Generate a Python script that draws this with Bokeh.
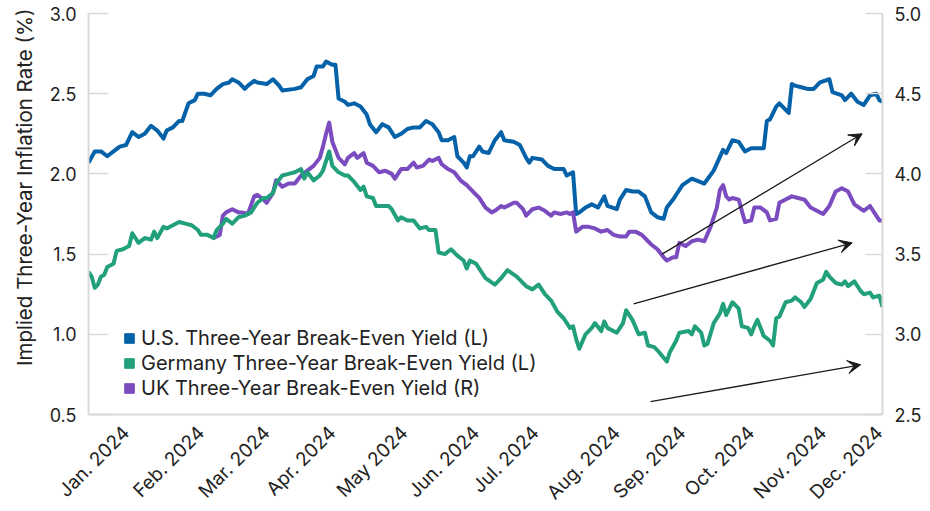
import math
from bokeh.plotting import figure
from bokeh.models import (Range1d, LinearAxis, FixedTicker, NumeralTickFormatter, Legend,
                          LegendItem, Arrow, VeeHead, Title)
from bokeh.embed import file_html
from bokeh.resources import INLINE

# ---- data (x = trading-day index over 2024) ----
us_day = [0, 2, 4, 6, 8, 10, 12, 14, 16, 18, 20, 22, 24, 25, 27, 29, 30, 32, 34, 35, 37, 39, 41, 43, 45, 46, 48, 50,
          51, 53, 54, 57, 59, 61, 62, 66, 68, 70, 72, 73, 75, 76, 78, 79, 80, 82, 83, 85, 87, 89, 90, 92, 94, 96, 98,
          100, 102, 104, 106, 108, 110, 112, 113, 115, 117, 118, 120, 121, 122, 123, 125, 126, 128, 130, 132, 133,
          136, 138, 140, 141, 142, 145, 147, 149, 152, 153, 155, 156, 157, 159, 161, 163, 165, 166, 169, 170, 172,
          174, 176, 178, 180, 182, 184, 185, 187, 188, 190, 193, 197, 200, 203, 204, 206, 208, 210, 212, 214, 216,
          217, 218, 220, 221, 224, 225, 226, 228, 230, 232, 234, 237, 238, 241, 242, 244, 246, 248, 250, 252, 253, 254]
us_val = [2.07, 2.14, 2.14, 2.11, 2.14, 2.17, 2.18, 2.26, 2.23, 2.25, 2.30, 2.27, 2.22, 2.27, 2.29, 2.33, 2.33, 2.44,
          2.46, 2.50, 2.50, 2.49, 2.53, 2.56, 2.57, 2.59, 2.57, 2.53, 2.55, 2.58, 2.57, 2.56, 2.59, 2.55, 2.52, 2.53,
          2.54, 2.59, 2.61, 2.67, 2.67, 2.70, 2.68, 2.68, 2.47, 2.45, 2.43, 2.44, 2.42, 2.37, 2.31, 2.26, 2.31, 2.29,
          2.23, 2.25, 2.28, 2.29, 2.29, 2.33, 2.31, 2.26, 2.21, 2.21, 2.23, 2.11, 2.07, 2.04, 2.11, 2.11, 2.17, 2.14,
          2.13, 2.21, 2.26, 2.21, 2.20, 2.18, 2.10, 2.07, 2.10, 2.09, 2.05, 2.03, 2.03, 1.99, 2.01, 1.75, 1.76, 1.79,
          1.81, 1.79, 1.86, 1.80, 1.78, 1.84, 1.90, 1.89, 1.89, 1.86, 1.76, 1.73, 1.72, 1.79, 1.84, 1.87, 1.93, 1.97,
          1.94, 2.02, 2.15, 2.13, 2.21, 2.20, 2.14, 2.16, 2.16, 2.16, 2.33, 2.34, 2.42, 2.44, 2.38, 2.56, 2.55, 2.54,
          2.53, 2.53, 2.57, 2.59, 2.51, 2.49, 2.46, 2.50, 2.45, 2.43, 2.49, 2.50, 2.46, 2.45]

de_day = [0, 1, 2, 3, 4, 5, 6, 8, 9, 11, 13, 14, 16, 18, 20, 21, 22, 24, 25, 27, 29, 31, 33, 35, 36, 38, 40, 41, 43,
          44, 46, 48, 50, 52, 54, 56, 57, 59, 60, 62, 64, 66, 68, 69, 70, 72, 74, 75, 77, 78, 80, 82, 83, 85, 87, 88,
          89, 91, 92, 94, 96, 97, 99, 100, 102, 104, 106, 108, 109, 111, 112, 114, 116, 118, 120, 121, 122, 124, 125,
          127, 130, 132, 134, 137, 140, 142, 144, 146, 148, 150, 152, 154, 155, 156, 157, 159, 161, 162, 164, 165,
          166, 169, 171, 172, 174, 176, 178, 179, 181, 182, 185, 186, 188, 189, 192, 193, 194, 196, 197, 198, 200,
          202, 203, 204, 206, 208, 209, 211, 212, 213, 214, 216, 218, 219, 220, 221, 223, 225, 226, 228, 229, 231,
          233, 235, 236, 237, 239, 241, 242, 243, 245, 247, 248, 250, 251, 253, 254]
de_val = [1.39, 1.36, 1.29, 1.31, 1.36, 1.37, 1.42, 1.44, 1.52, 1.53, 1.55, 1.63, 1.57, 1.60, 1.59, 1.64, 1.60, 1.67,
          1.66, 1.68, 1.70, 1.69, 1.68, 1.65, 1.62, 1.62, 1.60, 1.65, 1.69, 1.72, 1.69, 1.73, 1.74, 1.76, 1.82, 1.85,
          1.85, 1.88, 1.94, 1.99, 2.00, 2.01, 2.03, 1.97, 2.01, 1.96, 1.99, 2.02, 2.14, 2.05, 2.01, 1.99, 1.99, 1.95,
          1.90, 1.92, 1.86, 1.85, 1.80, 1.80, 1.80, 1.78, 1.71, 1.73, 1.71, 1.71, 1.66, 1.67, 1.65, 1.65, 1.51, 1.50,
          1.53, 1.49, 1.46, 1.41, 1.46, 1.44, 1.41, 1.35, 1.31, 1.35, 1.40, 1.36, 1.30, 1.28, 1.31, 1.25, 1.21, 1.14,
          1.10, 1.04, 1.05, 0.97, 0.91, 1.00, 1.04, 1.07, 1.02, 1.08, 1.04, 1.01, 1.07, 1.15, 1.09, 1.00, 1.01, 0.93,
          0.92, 0.90, 0.83, 0.89, 0.96, 1.01, 1.02, 1.00, 1.05, 1.01, 0.93, 0.94, 1.07, 1.13, 1.19, 1.12, 1.20, 1.16,
          1.05, 1.04, 1.00, 1.05, 1.09, 0.99, 0.96, 0.93, 1.10, 1.11, 1.20, 1.21, 1.23, 1.20, 1.17, 1.22, 1.32, 1.34,
          1.39, 1.36, 1.32, 1.31, 1.33, 1.30, 1.33, 1.27, 1.25, 1.26, 1.23, 1.24, 1.17]

uk_day = [40, 42, 43, 44, 46, 48, 49, 51, 53, 54, 56, 57, 59, 60, 62, 64, 66, 68, 70, 72, 74, 75, 76, 77, 78, 80, 82,
          83, 85, 86, 88, 89, 91, 93, 95, 97, 98, 100, 102, 104, 105, 107, 109, 110, 112, 113, 115, 117, 119, 121,
          123, 125, 127, 129, 130, 132, 133, 136, 137, 139, 140, 142, 144, 146, 148, 149, 151, 153, 154, 155, 156,
          158, 160, 162, 164, 166, 168, 170, 172, 173, 175, 177, 179, 180, 182, 184, 185, 187, 188, 189, 191, 193,
          195, 197, 199, 201, 202, 203, 204, 205, 206, 208, 210, 212, 213, 215, 217, 218, 220, 221, 223, 225, 227,
          229, 231, 233, 235, 237, 239, 241, 243, 245, 248, 250, 252, 253, 254]
uk_val = [3.60, 3.62, 3.74, 3.76, 3.78, 3.76, 3.76, 3.75, 3.86, 3.87, 3.84, 3.82, 3.88, 3.96, 3.92, 3.94, 3.94, 3.99,
          4.02, 4.05, 4.10, 4.17, 4.25, 4.32, 4.20, 4.10, 4.06, 4.10, 4.13, 4.10, 4.13, 4.07, 4.05, 4.01, 4.02, 4.00,
          3.97, 4.03, 4.03, 4.07, 4.04, 4.05, 4.09, 4.08, 4.10, 4.06, 4.03, 4.01, 3.96, 3.93, 3.89, 3.85, 3.79, 3.76,
          3.77, 3.80, 3.79, 3.82, 3.82, 3.78, 3.74, 3.78, 3.79, 3.77, 3.74, 3.76, 3.75, 3.76, 3.75, 3.76, 3.64, 3.67,
          3.67, 3.66, 3.64, 3.65, 3.62, 3.61, 3.61, 3.64, 3.64, 3.62, 3.58, 3.56, 3.53, 3.48, 3.46, 3.48, 3.48, 3.57,
          3.55, 3.58, 3.59, 3.58, 3.67, 3.79, 3.90, 3.93, 3.86, 3.84, 3.85, 3.84, 3.70, 3.71, 3.79, 3.79, 3.76, 3.71,
          3.72, 3.82, 3.84, 3.86, 3.85, 3.84, 3.79, 3.77, 3.75, 3.80, 3.89, 3.91, 3.89, 3.81, 3.77, 3.80, 3.74, 3.71,
          3.71]

tick_days = [12, 36, 57, 78, 101, 124, 143, 169, 190, 212, 235, 253]
tick_labels = ["Jan. 2024", "Feb. 2024", "Mar. 2024", "Apr. 2024", "May 2024", "Jun. 2024", "Jul. 2024",
               "Aug. 2024", "Sep. 2024", "Oct. 2024", "Nov. 2024", "Dec. 2024"]
left_ticks = [0.5, 1.0, 1.5, 2.0, 2.5, 3.0]
right_ticks = [2.5, 3.0, 3.5, 4.0, 4.5, 5.0]

# trend arrows (start day, start value, end day, end value) on left-axis scale
arrow_x0 = [183.5, 174.4, 179.8]
arrow_y0 = [1.50, 1.19, 0.58]
arrow_x1 = [247.5, 244.3, 247.0]
arrow_y1 = [2.25, 1.57, 0.81]

y_title = "Implied Three-Year Inflation Rate (%)"
series_names = ["U.S. Three-Year Break-Even Yield (L)",
                "Germany Three-Year Break-Even Yield (L)",
                "UK Three-Year Break-Even Yield (R)"]
BLUE, GREEN, PURPLE = "#0562a8", "#22a07b", "#7a4cc0"
FONT = "Inter"
TXT = "#222222"
AX = "#d9d9d9"

p = figure(frame_width=794, frame_height=401, output_backend="svg", toolbar_location=None,
           x_range=Range1d(0, 254), y_range=Range1d(0.5, 3.0),
           min_border_left=88, min_border_right=40, min_border_top=13, min_border_bottom=92)
p.extra_y_ranges = {"uk": Range1d(2.5, 5.0)}
p.outline_line_color = None
p.xgrid.visible = False
p.ygrid.visible = False
p.background_fill_color = "white"

# lines
p.line(us_day, us_val, line_color=BLUE, line_width=4, line_join="round")
p.line(uk_day, uk_val, line_color=PURPLE, line_width=4, line_join="round", y_range_name="uk")
p.line(de_day, de_val, line_color=GREEN, line_width=4, line_join="round")

# arrows
for i in range(len(arrow_x0)):
    p.add_layout(Arrow(x_start=arrow_x0[i], y_start=arrow_y0[i], x_end=arrow_x1[i], y_end=arrow_y1[i],
                       line_color="#1a1a1a", line_width=1.3,
                       end=VeeHead(size=13, fill_color="#1a1a1a", line_color="#1a1a1a", line_width=1)))

# axes
xa = p.xaxis[0]
xa.ticker = FixedTicker(ticks=tick_days)
xa.major_label_overrides = {d: l for d, l in zip(tick_days, tick_labels)}
xa.major_label_orientation = math.pi / 4
xa.axis_line_color = AX
xa.axis_line_width = 2
xa.major_tick_in = 0
xa.major_tick_out = 0
xa.minor_tick_line_color = None
xa.major_label_text_font = FONT
xa.major_label_text_font_size = "19px"
xa.major_label_text_color = TXT
xa.major_label_standoff = 15

ya = p.yaxis[0]
ya.ticker = FixedTicker(ticks=left_ticks)
ya.formatter = NumeralTickFormatter(format="0.0")
ya.axis_line_color = AX
ya.axis_line_width = 2
ya.major_tick_in = 20
ya.major_tick_out = 0
ya.major_tick_line_color = AX
ya.major_tick_line_width = 1.5
ya.minor_tick_line_color = None
ya.major_label_text_font = FONT
ya.major_label_text_font_size = "18px"
ya.major_label_text_color = TXT
ya.major_label_standoff = 12

# vertical axis title, aligned toward the top of the frame
p.add_layout(Title(text=y_title, align="right", offset=-5, standoff=16, vertical_align="top",
                   text_font=FONT, text_font_size="20.5px", text_font_style="normal",
                   text_color=TXT), "left")

ra = LinearAxis(y_range_name="uk", ticker=FixedTicker(ticks=right_ticks),
                formatter=NumeralTickFormatter(format="0.0"))
ra.axis_line_color = AX
ra.axis_line_width = 2
ra.major_tick_in = 17
ra.major_tick_out = 0
ra.major_tick_line_color = AX
ra.major_tick_line_width = 1.5
ra.minor_tick_line_color = None
ra.major_label_text_font = FONT
ra.major_label_text_font_size = "18px"
ra.major_label_text_color = TXT
ra.major_label_standoff = 12
p.add_layout(ra, "right")

# legend with square swatches (renderers hold no visible points)
nan = float("nan")
sq_us = p.scatter(x=[nan], y=[nan], marker="square", fill_color=BLUE, line_color=BLUE, size=9)
sq_de = p.scatter(x=[nan], y=[nan], marker="square", fill_color=GREEN, line_color=GREEN, size=9)
sq_uk = p.scatter(x=[nan], y=[nan], marker="square", fill_color=PURPLE, line_color=PURPLE, size=9)
legend = Legend(items=[LegendItem(label=series_names[0], renderers=[sq_us], index=0),
                       LegendItem(label=series_names[1], renderers=[sq_de], index=0),
                       LegendItem(label=series_names[2], renderers=[sq_uk], index=0)],
                location=(29, 14), padding=0, margin=0, spacing=1,
                glyph_width=24, glyph_height=24, label_height=24, label_standoff=0,
                label_text_font=FONT, label_text_font_size="20px", label_text_color=TXT,
                background_fill_alpha=0, border_line_alpha=0)
p.add_layout(legend)

open("out.html", "w").write(file_html(p, INLINE))
